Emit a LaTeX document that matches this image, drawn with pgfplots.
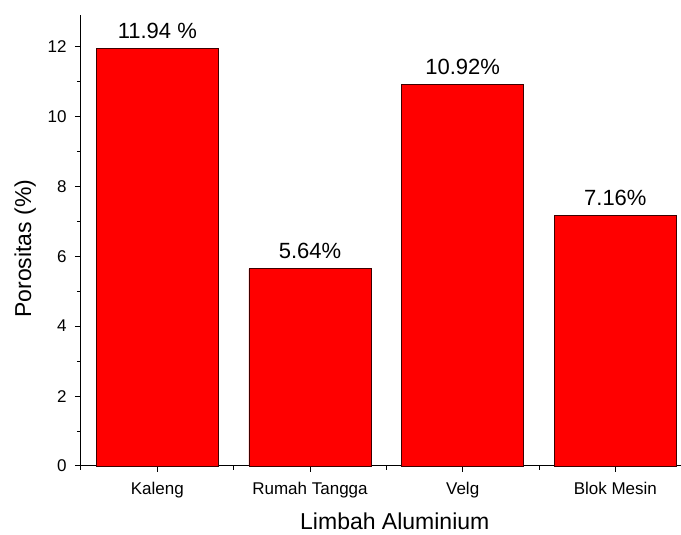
\documentclass[border=0pt]{standalone}
\usepackage{pgfplots}
\pgfplotsset{compat=1.18}
\usepackage{fontspec}
\setmainfont{Liberation Sans}
\begin{document}
\begin{tikzpicture}[x=1pt,y=1pt]
\begin{axis}[
  scale only axis, width=600pt, height=451pt,
  axis x line*=bottom, axis y line*=left,
  axis line style={line width=1pt, -},
  xmin=0.5, xmax=4.43, ymin=0, ymax=12.9,
  xtick={1,2,3,4},
  xticklabels={Kaleng, Rumah Tangga, Velg, Blok Mesin},
  minor xtick={0.5,1.5,2.5,3.5},
  ytick={0,2,...,12}, minor ytick={1,3,...,11},
  tick align=outside,
  major tick length=6pt, minor tick length=4pt,
  tick style={black, line width=1pt},
  ticklabel style={font=\fontsize{17}{19}\selectfont},
  /pgf/number format/assume math mode=true,
  x tick label style={yshift=-7pt},
  y tick label style={xshift=-5pt},
  xlabel={Limbah Aluminium},
  ylabel={Porositas (\%)},
  label style={font=\fontsize{23}{25}\selectfont},
  xlabel style={at={(ticklabel cs:0.523)}, anchor=center, yshift=-20pt},
  ylabel style={at={(ticklabel cs:0.482)}, anchor=center, yshift=19pt},
  clip=false,
]
\addplot[ybar, bar width=0.8, fill={rgb,255:red,255;green,0;blue,0}, draw={rgb,255:red,60;green,0;blue,0}, line width=0.8pt,
  point meta=explicit symbolic,
  nodes near coords,
  every node near coord/.style={font=\fontsize{22}{24}\selectfont, anchor=south, yshift=6pt}]
  coordinates {
    (1,11.94) [11.94 \%]
    (2,5.64) [5.64\%]
    (3,10.92) [10.92\%]
    (4,7.16) [7.16\%]
  };
\coordinate (O) at (rel axis cs:0,0);
\coordinate (TR) at (rel axis cs:1,1);
\end{axis}
\pgfresetboundingbox
\path ([xshift=-81pt,yshift=-69pt]O) rectangle ([yshift=15pt]TR);
\end{tikzpicture}
\end{document}
